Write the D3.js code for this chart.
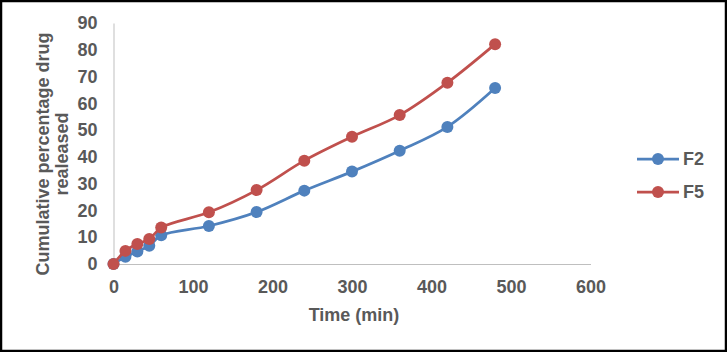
<!DOCTYPE html>
<html><head><meta charset="utf-8">
<script src="https://cdnjs.cloudflare.com/ajax/libs/d3/7.8.5/d3.min.js"></script>
<style>body{margin:0;background:#fff}svg{display:block}</style>
</head><body><svg id="c" width="727" height="352"></svg>
<script>
const times = [0, 15, 30, 45, 60, 120, 180, 240, 300, 360, 420, 480];
const f2 = [0, 2.7, 4.7, 6.8, 10.7, 14.2, 19.4, 27.4, 34.5, 42.3, 51.2, 65.7];
const f5 = [0, 4.9, 7.5, 9.3, 13.6, 19.3, 27.6, 38.6, 47.5, 55.6, 67.7, 82.1];
const seriesNames = ["F2", "F5"];
const seriesColors = ["#4F81BD", "#C0504D"];
const xTicks = [0, 100, 200, 300, 400, 500, 600];
const yTicks = [0, 10, 20, 30, 40, 50, 60, 70, 80, 90];

const svg = d3.select("#c");
const font = "'Liberation Sans', Arial, sans-serif";
const fs = "18px";
const txt = "#595959";
svg.append("rect").attr("x",1).attr("y",1).attr("width",725).attr("height",350)
  .attr("fill","#fff").attr("stroke","#000").attr("stroke-width",2.5);

const x = d3.scaleLinear().domain([0,600]).range([113.5,590.5]);
const y = d3.scaleLinear().domain([0,90]).range([264,23]);

const gx = svg.append("g").attr("transform","translate(0,264)")
  .call(d3.axisBottom(x).tickValues(xTicks).tickSize(0).tickPadding(16));
gx.select(".domain").attr("stroke","#BFBFBF").attr("stroke-width",1);
gx.selectAll("text").attr("font-family",font).attr("font-size",fs).attr("font-weight","bold").attr("fill",txt);

const gy = svg.append("g").attr("transform","translate(113.5,0)")
  .call(d3.axisLeft(y).tickValues(yTicks).tickSize(0).tickPadding(16));
gy.select(".domain").attr("stroke","#BFBFBF").attr("stroke-width",1);
gy.selectAll("text").attr("font-family",font).attr("font-size",fs).attr("font-weight","bold").attr("fill",txt);

const series = [f2, f5];
const line = d3.line().x((d,i)=>x(times[i])).y(d=>y(d)).curve(d3.curveCatmullRom.alpha(0.5));
series.forEach((s,k)=>{
  svg.append("path").datum(s).attr("d",line).attr("fill","none")
    .attr("stroke",seriesColors[k]).attr("stroke-width",2.75);
  svg.selectAll(null).data(s).enter().append("circle")
    .attr("cx",(d,i)=>x(times[i])).attr("cy",d=>y(d)).attr("r",6)
    .attr("fill",seriesColors[k]);
});

svg.append("text").attr("x",354).attr("y",321).attr("text-anchor","middle")
  .attr("font-family",font).attr("font-size",fs).attr("font-weight","bold").attr("fill",txt)
  .text("Time (min)");

const yt = svg.append("text").attr("transform","translate(0,154) rotate(-90)")
  .attr("text-anchor","middle").attr("font-family",font).attr("font-size",fs)
  .attr("font-weight","bold").attr("fill",txt);
yt.append("tspan").attr("x",0).attr("y",49).text("Cumulative percentage drug");
yt.append("tspan").attr("x",0).attr("y",68).text("realeased");

const lg = svg.append("g");
seriesNames.forEach((n,k)=>{
  const cy = 159 + k*33;
  lg.append("line").attr("x1",637).attr("x2",679).attr("y1",cy).attr("y2",cy)
    .attr("stroke",seriesColors[k]).attr("stroke-width",2.75);
  lg.append("circle").attr("cx",658).attr("cy",cy).attr("r",6).attr("fill",seriesColors[k]);
  lg.append("text").attr("x",683).attr("y",cy).attr("dy","0.36em")
    .attr("font-family",font).attr("font-size",fs).attr("font-weight","bold").attr("fill",txt).text(n);
});
</script></body></html>
